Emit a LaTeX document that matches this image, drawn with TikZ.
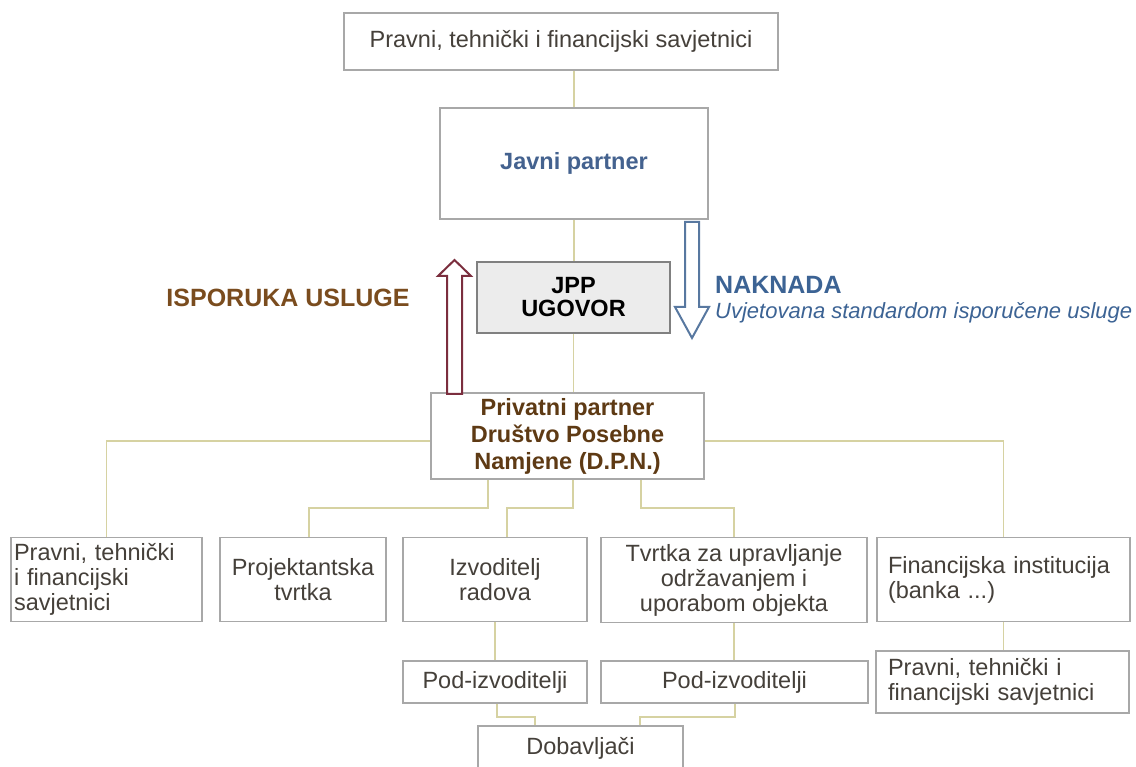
\documentclass[tikz,border=0pt]{standalone}
\usepackage{fontspec}
\setmainfont{Liberation Sans}
\usepackage{xcolor}
\usepackage{tikz}
\usetikzlibrary{positioning,calc}
\definecolor{txtgray}{HTML}{45403A}
\definecolor{boxgray}{HTML}{A8A8A8}
\definecolor{linkolive}{HTML}{D6D2A2}
\definecolor{pubblue}{HTML}{44628F}
\definecolor{feeblue}{HTML}{3C6394}
\definecolor{spvbrown}{HTML}{5E3A14}
\definecolor{servbrown}{HTML}{7A4C1E}
\definecolor{servred}{HTML}{7B2E3E}
\definecolor{arrowblue}{HTML}{5878A0}
\definecolor{jppfill}{HTML}{ECECEC}
\definecolor{jppborder}{HTML}{808080}
\newcommand{\bodysize}{\fontsize{23.5}{25}\selectfont}
\tikzset{
  entity/.style={draw=boxgray, line width=1.2pt, fill=white, align=center, text=txtgray, inner sep=3pt, font=\bodysize},
  leftentity/.style={entity, align=left},
  contract/.style={draw=jppborder, fill=jppfill, line width=2pt, align=center, text=black, font=\fontsize{23.5}{23}\selectfont\bfseries},
  spv/.style={entity, text=spvbrown, font=\fontsize{23.5}{27}\selectfont\bfseries},
  link/.style={draw=linkolive, line width=1.3pt},
  servlab/.style={text=servbrown, inner sep=0pt, font=\fontsize{25}{28}\selectfont\bfseries},
  feelab/.style={text=feeblue, inner sep=0pt, font=\fontsize{25}{28}\selectfont\bfseries},
  condlab/.style={text=feeblue, inner sep=0pt, font=\fontsize{22}{25}\selectfont\itshape},
  servarrow/.style={draw=servred, fill=white, line width=2pt, line join=miter},
  feearrow/.style={draw=arrowblue, fill=white, line width=2pt, line join=miter},
}

\begin{document}
\begin{tikzpicture}[x=1pt, y=-1pt]
\useasboundingbox (0,0) rectangle (1136,767);
% levels of the branch lines
\coordinate (busY) at (0,441);
\coordinate (midY) at (0,508);
\coordinate (lowY) at (0,717);

\node[entity, minimum width=434pt, minimum height=57pt] (topadv) at (561,41.5) {Pravni, tehnički i financijski savjetnici};
\node[entity, minimum width=268pt, minimum height=111pt, text=pubblue, font=\bodysize\bfseries] (javni) at (574,163.5) {Javni partner};
\node[contract, minimum width=193pt, minimum height=71pt] (jpp) at (573.5,297.5) {JPP\\UGOVOR};
\node[spv, minimum width=273pt, minimum height=86pt] (dpn) at (567.5,436) {Privatni partner\\Društvo Posebne\\Namjene (D.P.N.)};

% first row
\node[leftentity, text width=185pt, minimum height=84pt] (adv1) at (106.5,579.5) {Pravni, tehnički\\i financijski\\savjetnici};
\node[entity, minimum width=166pt, minimum height=84pt] (proj) at (303,579.5) {Projektantska\\tvrtka};
\node[entity, minimum width=184pt, minimum height=84pt] (izv) at (495,579.5) {Izvoditelj\\radova};
\node[entity, minimum width=266pt, minimum height=85pt] (tvrtka) at (734,580) {Tvrtka za upravljanje\\održavanjem i\\uporabom objekta};
\node[leftentity, inner xsep=11pt, text width=231pt, minimum height=84pt] (fin) at (1003.5,579.5) {Financijska institucija\\(banka ...)};

% second row
\node[entity, minimum width=184pt, minimum height=42pt] (pod1) at (495,682) {Pod-izvoditelji};
\node[entity, minimum width=267pt, minimum height=42pt] (pod2) at (734.5,682) {Pod-izvoditelji};
\node[leftentity, inner xsep=12pt, text width=229pt, minimum height=62pt] (adv2) at (1002.5,682) {Pravni, tehnički i\\financijski savjetnici};
\node[entity, minimum width=205pt, minimum height=44pt] (dob) at (580.5,748) {Dobavljači};

% labels
\node[servlab] (serv) at (288,298) {ISPORUKA USLUGE};
\node[feelab, anchor=west] (fee) at (715,285) {NAKNADA};
\node[condlab, anchor=west] (cond) at (715,313) {Uvjetovana standardom isporučene usluge};

% connectors
\draw[link] (javni.north |- topadv.south) -- (javni.north);
\draw[link] (javni.south) -- (javni.south |- jpp.north);
\draw[link] (jpp.south) -- (jpp.south |- dpn.north);
\draw[link] (dpn.west |- busY) -| (adv1.north);
\draw[link] (dpn.east |- busY) -| (fin.north);
\draw[link] ([xshift=-79.5pt]dpn.south) |- ([xshift=6pt]proj.north |- midY) -- ([xshift=6pt]proj.north);
\draw[link] ([xshift=5.5pt]dpn.south) |- ([xshift=12pt]izv.north |- midY) -- ([xshift=12pt]izv.north);
\draw[link] ([xshift=73.5pt]dpn.south) |- (tvrtka.north |- midY) -- (tvrtka.north);
\draw[link] (izv.south) -- (pod1.north);
\draw[link] (tvrtka.south) -- (tvrtka.south |- pod2.north);
\draw[link] (fin.south) -- (fin.south |- adv2.north);
\draw[link] ([xshift=2pt]pod1.south) |- ([xshift=-45.5pt]dob.north |- lowY) -- ([xshift=-45.5pt]dob.north);
\draw[link] ([xshift=0.5pt]pod2.south) |- ([xshift=59.5pt]dob.north |- lowY) -- ([xshift=59.5pt]dob.north);

% hollow arrows
\draw[servarrow] (447,394) -- (447,276) -- (438,276) -- (454.5,260) -- (471,276) -- (462,276) -- (462,394) -- cycle;
\draw[feearrow] (685,222) -- (685,307) -- (675,307) -- (692,338) -- (709,307) -- (699,307) -- (699,222) -- cycle;
\end{tikzpicture}
\end{document}
